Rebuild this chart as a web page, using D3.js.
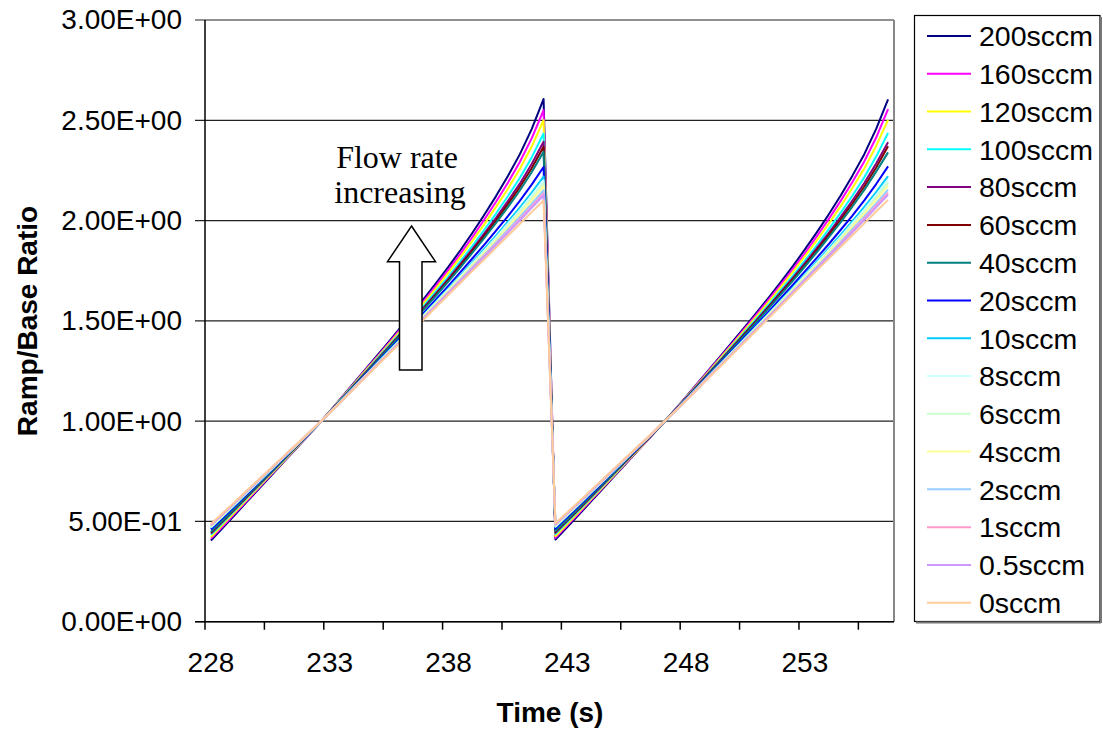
<!DOCTYPE html>
<html><head><meta charset="utf-8">
<script src="https://cdn.jsdelivr.net/npm/d3@7"></script>
<style>body{margin:0;background:#fff} svg{display:block}</style>
</head><body><svg id="chart" width="1103" height="733"></svg>
<script>
const times = [228,228.5,229,229.5,230,230.5,231,231.5,232,232.5,233,233.5,234,234.5,235,235.5,236,236.5,237,237.5,238,238.5,239,239.5,240,240.5,241,241.5,242,
  242.5,243,243.5,244,244.5,245,245.5,246,246.5,247,247.5,248,248.5,249,249.5,250,250.5,251,251.5,252,252.5,253,253.5,254,254.5,255,255.5,256,256.5];
const tickLabels = ["228","233","238","243","248","253"];
const yTicks = [0,0.5,1,1.5,2,2.5,3];
const seriesNames = ["200sccm","160sccm","120sccm","100sccm","80sccm","60sccm","40sccm","20sccm","10sccm","8sccm","6sccm","4sccm","2sccm","1sccm","0.5sccm","0sccm"];
const seriesColors = ["#000080","#FF00FF","#FFFF00","#00FFFF","#800080","#800000","#008080","#0000FF","#00CCFF","#CCFFFF","#CCFFCC","#FFFF99","#99CCFF","#FF99CC","#CC99FF","#FFCC99"];

const s200 = [.405,.468,.532,.596,.660,.724,.788,.852,.916,.980,1.048,1.118,1.188,1.258,1.328,1.398,1.470,1.542,1.616,1.692,1.770,1.852,1.938,2.028,2.122,2.222,2.330,2.456,2.606,
  .410,.472,.535,.600,.664,.728,.792,.857,.921,.986,1.053,1.122,1.192,1.262,1.332,1.403,1.474,1.546,1.620,1.696,1.774,1.856,1.941,2.030,2.124,2.224,2.331,2.457,2.604];
const s160 = [.414,.476,.539,.602,.665,.728,.791,.854,.917,.980,1.047,1.116,1.185,1.254,1.322,1.391,1.462,1.532,1.605,1.679,1.755,1.834,1.917,2.004,2.094,2.189,2.292,2.410,2.550,
  .418,.480,.542,.606,.669,.732,.795,.858,.922,.985,1.052,1.120,1.189,1.258,1.326,1.395,1.466,1.537,1.609,1.683,1.759,1.838,1.921,2.007,2.097,2.192,2.295,2.414,2.556];
const s120 = [.422,.484,.546,.608,.670,.732,.794,.856,.919,.981,1.047,1.114,1.182,1.250,1.317,1.385,1.454,1.523,1.594,1.667,1.741,1.818,1.898,1.981,2.068,2.159,2.257,2.369,2.500,
  .426,.487,.549,.611,.673,.735,.798,.860,.923,.986,1.051,1.118,1.186,1.253,1.321,1.389,1.458,1.527,1.598,1.671,1.745,1.822,1.901,1.984,2.071,2.162,2.260,2.372,2.502];
const s100 = [.433,.493,.554,.615,.676,.737,.798,.859,.920,.981,1.046,1.112,1.178,1.244,1.311,1.377,1.444,1.512,1.581,1.651,1.722,1.797,1.873,1.953,2.035,2.121,2.212,2.315,2.434,
  .437,.497,.557,.618,.679,.741,.802,.863,.924,.986,1.050,1.116,1.182,1.248,1.314,1.381,1.448,1.516,1.585,1.655,1.726,1.800,1.876,1.956,2.038,2.124,2.216,2.319,2.437];
const s80 = [.439,.499,.559,.620,.680,.740,.801,.861,.921,.982,1.045,1.110,1.176,1.241,1.307,1.372,1.438,1.505,1.572,1.641,1.711,1.784,1.858,1.935,2.014,2.097,2.184,2.282,2.393,
  .443,.503,.562,.623,.683,.744,.805,.865,.925,.987,1.049,1.114,1.180,1.245,1.310,1.376,1.442,1.509,1.576,1.645,1.715,1.788,1.862,1.938,2.017,2.100,2.187,2.285,2.390];
const s60 = [.444,.503,.563,.623,.683,.742,.802,.862,.922,.982,1.045,1.110,1.174,1.239,1.304,1.369,1.434,1.500,1.567,1.635,1.704,1.775,1.849,1.924,2.001,2.082,2.167,2.261,2.368,
  .448,.507,.566,.626,.686,.746,.806,.866,.926,.987,1.049,1.113,1.178,1.243,1.307,1.372,1.438,1.504,1.571,1.639,1.708,1.779,1.852,1.927,2.004,2.085,2.170,2.265,2.371];
const s40 = [.448,.506,.566,.626,.685,.744,.804,.863,.922,.982,1.044,1.109,1.173,1.237,1.301,1.366,1.430,1.496,1.562,1.629,1.697,1.767,1.839,1.913,1.988,2.067,2.150,2.241,2.343,
  .452,.510,.569,.629,.688,.748,.808,.867,.926,.987,1.048,1.112,1.176,1.240,1.304,1.369,1.434,1.500,1.566,1.633,1.701,1.771,1.842,1.916,1.991,2.070,2.153,2.244,2.340];
const s20 = [.460,.518,.576,.634,.692,.750,.808,.866,.924,.983,1.043,1.106,1.169,1.231,1.294,1.356,1.419,1.482,1.546,1.611,1.676,1.743,1.811,1.879,1.950,2.022,2.098,2.179,2.267,
  .464,.522,.579,.637,.695,.754,.812,.870,.928,.988,1.047,1.109,1.172,1.235,1.297,1.360,1.423,1.486,1.550,1.615,1.680,1.747,1.814,1.882,1.953,2.025,2.101,2.182,2.270];
const s10 = [.468,.525,.582,.640,.697,.754,.811,.868,.925,.983,1.043,1.104,1.166,1.227,1.289,1.351,1.412,1.474,1.536,1.599,1.663,1.727,1.793,1.858,1.925,1.994,2.065,2.139,2.219,
  .472,.529,.585,.643,.700,.758,.815,.872,.929,.988,1.047,1.107,1.169,1.231,1.292,1.354,1.416,1.478,1.540,1.603,1.667,1.731,1.796,1.861,1.928,1.997,2.068,2.142,2.222];
const s8 = [.471,.527,.584,.642,.698,.755,.812,.869,.926,.983,1.042,1.104,1.165,1.226,1.287,1.348,1.409,1.471,1.533,1.595,1.658,1.722,1.786,1.850,1.916,1.984,2.052,2.125,2.201,
  .475,.531,.587,.645,.701,.759,.816,.873,.930,.988,1.046,1.107,1.168,1.230,1.290,1.352,1.413,1.475,1.537,1.599,1.662,1.726,1.789,1.853,1.919,1.987,2.055,2.128,2.204];
const s6 = [.473,.529,.586,.643,.700,.756,.813,.869,.926,.984,1.042,1.103,1.164,1.225,1.286,1.347,1.407,1.468,1.530,1.592,1.654,1.717,1.780,1.844,1.909,1.975,2.042,2.112,2.186,
  .477,.533,.589,.646,.703,.760,.817,.873,.930,.989,1.046,1.106,1.167,1.229,1.289,1.350,1.411,1.472,1.534,1.596,1.658,1.721,1.783,1.847,1.912,1.978,2.045,2.115,2.189];
const s4 = [.476,.532,.588,.645,.701,.758,.814,.870,.926,.984,1.042,1.103,1.163,1.224,1.284,1.345,1.405,1.465,1.527,1.588,1.650,1.712,1.775,1.837,1.901,1.966,2.032,2.100,2.171,
  .480,.536,.591,.648,.704,.762,.818,.874,.930,.989,1.046,1.106,1.166,1.228,1.287,1.348,1.409,1.469,1.531,1.592,1.654,1.716,1.778,1.840,1.904,1.969,2.035,2.103,2.174];
const s2 = [.479,.535,.590,.647,.703,.759,.815,.871,.927,.984,1.042,1.102,1.162,1.222,1.282,1.342,1.402,1.462,1.522,1.583,1.644,1.705,1.767,1.828,1.891,1.954,2.018,2.083,2.151,
  .483,.539,.593,.650,.706,.763,.819,.875,.931,.989,1.046,1.105,1.165,1.226,1.285,1.345,1.406,1.466,1.526,1.587,1.648,1.709,1.770,1.831,1.894,1.957,2.021,2.086,2.154];
const s1 = [.481,.537,.592,.649,.705,.760,.816,.872,.927,.984,1.041,1.101,1.161,1.221,1.281,1.340,1.399,1.459,1.519,1.579,1.640,1.700,1.761,1.822,1.883,1.945,2.007,2.071,2.135,
  .485,.541,.595,.652,.708,.764,.820,.876,.931,.989,1.045,1.104,1.164,1.225,1.284,1.343,1.403,1.463,1.523,1.583,1.644,1.704,1.764,1.825,1.886,1.948,2.010,2.074,2.138];
const s05 = [.483,.538,.594,.650,.706,.761,.816,.872,.927,.984,1.041,1.101,1.160,1.220,1.280,1.339,1.398,1.457,1.517,1.577,1.637,1.697,1.758,1.817,1.878,1.939,2.000,2.063,2.125,
  .487,.542,.597,.653,.709,.765,.820,.876,.931,.989,1.045,1.104,1.163,1.224,1.283,1.342,1.402,1.461,1.521,1.581,1.641,1.701,1.761,1.820,1.881,1.942,2.003,2.066,2.128];
const s0 = [.487,.542,.597,.653,.708,.763,.818,.873,.928,.984,1.041,1.100,1.159,1.218,1.277,1.336,1.394,1.453,1.512,1.571,1.630,1.689,1.748,1.806,1.865,1.924,1.983,2.042,2.100,
  .491,.546,.600,.656,.711,.767,.822,.877,.932,.989,1.045,1.103,1.162,1.222,1.280,1.339,1.398,1.457,1.516,1.575,1.634,1.693,1.751,1.809,1.868,1.927,1.986,2.045,2.103];

const seriesValues = [s200,s160,s120,s100,s80,s60,s40,s20,s10,s8,s6,s4,s2,s1,s05,s0];

const svg = d3.select("#chart");
const L = 205, R = 894, T = 20, B = 621.7;
const x = d3.scaleBand().domain(times).range([L, R]).paddingInner(0).paddingOuter(0);
const xc = t => x(t) + x.bandwidth() / 2;
const y = d3.scaleLinear().domain([0, 3]).range([B, T]);
const FONT = "'Liberation Sans', Arial, sans-serif";

function fmtE(v) {
  const [m, e] = v.toExponential(2).split("e");
  const sign = e[0] === "-" ? "-" : "+";
  const digits = e.replace(/^[+-]/, "").padStart(2, "0");
  return m + "E" + sign + digits;
}

// gridlines (extend left as ticks)
svg.append("g").selectAll("line").data(yTicks).join("line")
  .attr("x1", L - 10).attr("x2", R)
  .attr("y1", d => y(d)).attr("y2", d => y(d))
  .attr("stroke", "#222").attr("stroke-width", 1.2);

// right border
svg.append("line").attr("x1", R).attr("x2", R).attr("y1", T).attr("y2", B)
  .attr("stroke", "#888").attr("stroke-width", 2);

// left axis line
svg.append("line").attr("x1", L).attr("x2", L).attr("y1", T).attr("y2", B)
  .attr("stroke", "#000").attr("stroke-width", 1.5);
// bottom axis line
svg.append("line").attr("x1", L - 10).attr("x2", R).attr("y1", B).attr("y2", B)
  .attr("stroke", "#000").attr("stroke-width", 1.5);

// y tick labels via axis
const yAxis = d3.axisLeft(y).tickValues(yTicks).tickSize(0).tickPadding(23).tickFormat(fmtE);
const gy = svg.append("g").attr("transform", `translate(${L},0)`).call(yAxis);
gy.select(".domain").remove();
gy.selectAll("text").attr("font-family", FONT).attr("font-size", 28).attr("fill", "#000");

// x tick marks (category boundaries every 5 categories)
const tickIdx = d3.range(0, times.length, 5);
svg.append("g").selectAll("line").data(tickIdx).join("line")
  .attr("x1", i => x(times[i])).attr("x2", i => x(times[i]))
  .attr("y1", B).attr("y2", B + 8)
  .attr("stroke", "#000").attr("stroke-width", 1.5);

// x labels every 10 categories
const labelTimes = tickLabels.map(s => +s);
const xAxis = d3.axisBottom(x).tickValues(labelTimes).tickSize(0).tickPadding(30)
  .tickFormat((d, i) => tickLabels[i]);
const gx = svg.append("g").attr("transform", `translate(0,${B})`).call(xAxis);
gx.select(".domain").remove();
gx.selectAll("text").attr("font-family", FONT).attr("font-size", 28).attr("fill", "#000");

// lines
const line = d3.line().x(d => xc(d.t)).y(d => y(d.v));
seriesValues.forEach((vals, k) => {
  svg.append("path")
    .datum(vals.map((v, i) => ({ t: times[i], v })))
    .attr("d", line)
    .attr("fill", "none")
    .attr("stroke", seriesColors[k])
    .attr("stroke-width", 2)
    .attr("stroke-linejoin", "round");
});

// arrow annotation
const ax = 411.5;
svg.append("path")
  .attr("d", `M${ax},226 L${ax + 24},261.7 L${ax + 10.5},261.7 L${ax + 10.5},370 L${ax - 12},370 L${ax - 12},261.7 L${ax - 24},261.7 Z`)
  .attr("fill", "#fff").attr("stroke", "#000").attr("stroke-width", 1.5);

const ann = svg.append("g").attr("font-family", "'Liberation Serif', 'Times New Roman', serif")
  .attr("font-size", 32).attr("text-anchor", "middle").attr("fill", "#000");
ann.append("text").attr("x", 397).attr("y", 168).text("Flow rate");
ann.append("text").attr("x", 400).attr("y", 203).text("increasing");

// axis titles
svg.append("text").attr("x", 550).attr("y", 722).attr("text-anchor", "middle")
  .attr("font-family", FONT).attr("font-weight", "bold").attr("font-size", 28).text("Time (s)");
svg.append("text").attr("transform", "translate(37,321) rotate(-90)").attr("text-anchor", "middle")
  .attr("font-family", FONT).attr("font-weight", "bold").attr("font-size", 28).text("Ramp/Base Ratio");

// legend
const lg = svg.append("g");
lg.append("rect").attr("x", 914.5).attr("y", 15.5).attr("width", 185.5).attr("height", 606)
  .attr("fill", "#fff").attr("stroke", "#000").attr("stroke-width", 1.2);
lg.append("line").attr("x1", 916).attr("x2", 1101).attr("y1", 622.5).attr("y2", 622.5)
  .attr("stroke", "#777").attr("stroke-width", 2);
lg.append("line").attr("x1", 1101).attr("x2", 1101).attr("y1", 17).attr("y2", 623)
  .attr("stroke", "#777").attr("stroke-width", 2);
const ly = d3.scaleLinear().domain([0, seriesNames.length - 1]).range([36, 602.7]);
seriesNames.forEach((name, k) => {
  lg.append("line").attr("x1", 927).attr("x2", 971).attr("y1", ly(k)).attr("y2", ly(k))
    .attr("stroke", seriesColors[k]).attr("stroke-width", 2);
  lg.append("text").attr("x", 979).attr("y", ly(k)).attr("dy", "0.36em")
    .attr("font-family", FONT).attr("font-size", 28.5).attr("fill", "#000").text(name);
});
</script></body></html>
